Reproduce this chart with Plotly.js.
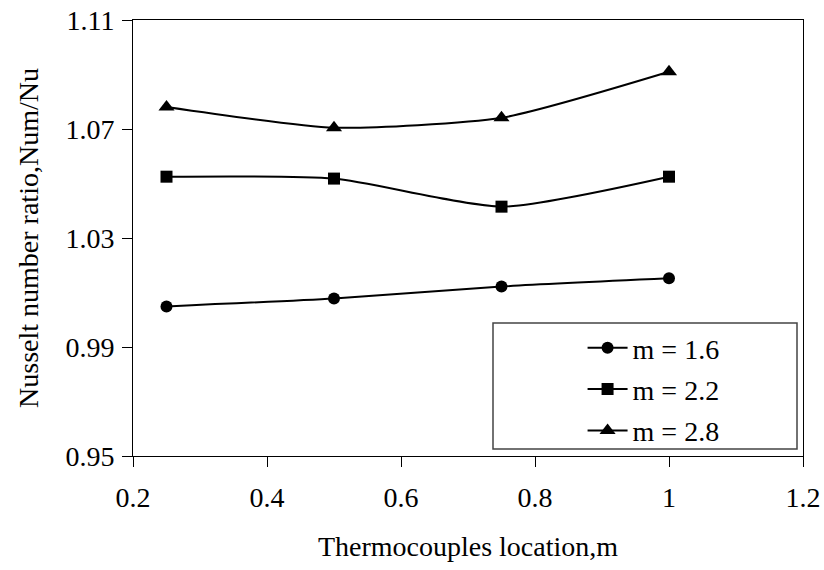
<!DOCTYPE html>
<html>
<head>
<meta charset="utf-8">
<script src="https://cdn.plot.ly/plotly-3.0.1.min.js"></script>
<style>html,body{margin:0;padding:0;background:#fff;}#chart{width:824px;height:570px;}</style>
</head>
<body>
<div id="chart"></div>
<script>
const locations = [0.25, 0.5, 0.75, 1.0];
const m16 = [1.0049, 1.0078, 1.0122, 1.0152];
const m22 = [1.0525, 1.0518, 1.0415, 1.0525];
const m28 = [1.0781, 1.0705, 1.0741, 1.0910];
const seriesNames = ["m = 1.6", "m = 2.2", "m = 2.8"];
const yTicks = [0.95, 0.99, 1.03, 1.07, 1.11];
const xTicks = [0.2, 0.4, 0.6, 0.8, 1, 1.2];

const font = "'Liberation Serif', 'Times New Roman', serif";
function tr(y, name, sym, size, g) {
  return {x: locations, y: y, name: name, type: 'scatter', mode: 'lines+markers',
    line: {color: '#000', width: 2, shape: 'spline', smoothing: 0.6},
    marker: {symbol: sym, size: size, color: '#000'}, legendgroup: g};
}
const data = [tr(m16, seriesNames[0], 'circle', 12, 'a'), tr(m22, seriesNames[1], 'square', 12, 'b'), tr(m28, seriesNames[2], 'triangle-up', 14, 'c')];
const layout = {
  width: 824, height: 570,
  margin: {l: 133, r: 21, t: 20, b: 114},
  paper_bgcolor: '#fff', plot_bgcolor: '#fff',
  font: {family: font, size: 28, color: '#000'},
  xaxis: {range: [0.2, 1.2], tickvals: xTicks, ticks: 'outside', ticklen: 10, tickcolor: '#000',
    ticklabelstandoff: 6, tickfont: {size: 28},
    showline: true, mirror: true, linecolor: '#000', linewidth: 1, showgrid: false, zeroline: false,
    title: {text: 'Thermocouples location,m', font: {size: 28}, standoff: 24}},
  yaxis: {range: [0.95, 1.11], tickvals: yTicks, tickformat: '.2f', ticks: 'outside', ticklen: 10, tickcolor: '#000',
    ticklabelstandoff: 2, tickfont: {size: 28},
    showline: true, mirror: true, linecolor: '#000', linewidth: 1, showgrid: false, zeroline: false,
    title: {text: 'Nusselt number ratio,Num/Nu', font: {size: 28}, standoff: 18}},
  showlegend: true,
  legend: {x: 0.671, y: 0.305, xanchor: 'left', yanchor: 'top', bgcolor: 'rgba(0,0,0,0)', borderwidth: 0,
    font: {size: 28}, traceorder: 'grouped', tracegroupgap: 2, itemwidth: 40},
  shapes: [{type: 'rect', xref: 'paper', yref: 'paper', x0: (493-133)/670, x1: (797-133)/670,
    y0: (456-449)/436, y1: (456-323)/436, line: {color: '#444', width: 1.5}}]
};
Plotly.newPlot('chart', data, layout, {displayModeBar: false});
</script>
</body>
</html>
